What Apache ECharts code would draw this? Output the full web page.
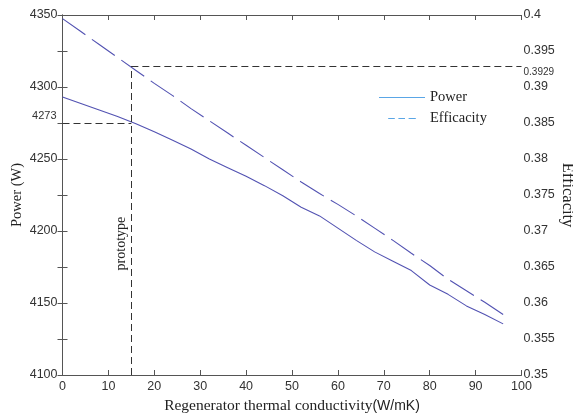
<!DOCTYPE html>
<html><head><meta charset="utf-8">
<script src="https://cdn.jsdelivr.net/npm/echarts@6/dist/echarts.min.js"></script>
<style>html,body{margin:0;padding:0;background:#fff}#c{width:573px;height:417px}</style>
</head><body><div id="c"></div>
<script>
var conductivity = [0,4,8,12,16,20,24,28,32,36,40,44,48,52,56,60,64,68,72,76,80,84,88,92,96];
var power = [4293,4288.5,4284,4279.5,4274.5,4269,4263,4257,4250,4244,4238,4231.5,4224.5,4216.5,4210.5,4202,4193.5,4185.5,4179,4172.5,4162.5,4156,4148,4142,4135.5];
var efficacity = [0.3995,0.3977,0.3959,0.3941,0.3923,0.3905,0.3888,0.3870,0.3853,0.3836,0.3819,0.3802,0.3785,0.3768,0.3752,0.3737,0.3721,0.3704,0.3687,0.3669,0.3652,0.3633,0.3617,0.3601,0.3584];
var prototypeX = 15;
var prototypePower = 4275;
var prototypePowerLabel = '4273';
var prototypeEff = 0.3929;
var prototypeEffLabel = '0.3929';

var serif = '"Liberation Serif","Times New Roman",serif';
var sans = '"Liberation Sans",Arial,sans-serif';
var axisCol = '#555';
var lineCol = '#5252b2';
var legendCol = '#5aa6e6';
var refLine = {type:[7,4], color:'#333', width:1};

var chart = echarts.init(document.getElementById('c'));
chart.setOption({
  animation:false,
  backgroundColor:'#fff',
  grid:{left:62.5, right:51.5, top:15, bottom:42, containLabel:false, outerBoundsMode:'none'},
  legend:{
    left:374, top:85, orient:'vertical', itemWidth:46, itemHeight:1.2, itemGap:6,
    textStyle:{fontFamily:serif, fontSize:14.5, color:'#222'},
    data:[
      {name:'Power', icon:'rect', itemStyle:{color:legendCol}},
      {name:'Efficacity', icon:'path://M0,0h11v2h-11zM17,0h11v2h-11zM34,0h12v2h-12z', itemStyle:{color:legendCol}}
    ]
  },
  xAxis:[{
    type:'value', min:0, max:100, interval:10, position:'bottom',
    axisLine:{lineStyle:{color:axisCol}}, axisTick:{inside:true, length:5, lineStyle:{color:axisCol}},
    axisLabel:{fontFamily:sans, fontSize:12.5, color:'#333', margin:5},
    splitLine:{show:false},
    name:'{a|Regenerator thermal conductivity}{b|(W/mK)}', nameLocation:'middle', nameGap:20,
    nameTextStyle:{rich:{a:{fontFamily:serif, fontSize:15.5, color:'#222'}, b:{fontFamily:sans, fontSize:14, color:'#222'}}}
  },{
    type:'value', min:0, max:100, interval:10, position:'top',
    axisLine:{lineStyle:{color:axisCol}}, axisTick:{inside:true, length:5, lineStyle:{color:axisCol}},
    axisLabel:{show:false}, splitLine:{show:false}
  }],
  yAxis:[{
    type:'value', min:4100, max:4350, interval:25, position:'left',
    axisLine:{show:true, lineStyle:{color:axisCol}}, axisTick:{show:true, inside:true, length:5, lineStyle:{color:axisCol}},
    axisLabel:{fontFamily:sans, fontSize:12.5, color:'#333', margin:5, formatter:function(v){return v%50===0?String(v):'';}},
    splitLine:{show:false},
    name:'Power (W)', nameLocation:'middle', nameGap:38, nameMoveOverlap:false,
    nameTextStyle:{fontFamily:serif, fontSize:14.5, color:'#222'}
  },{
    type:'value', min:0.35, max:0.4, interval:0.005, position:'right',
    axisLine:{show:true, lineStyle:{color:axisCol}}, axisTick:{show:true, inside:true, length:5, lineStyle:{color:axisCol}},
    axisLabel:{fontFamily:sans, fontSize:12.5, color:'#333', margin:2},
    splitLine:{show:false},
    name:'Efficacity', nameLocation:'middle', nameGap:37, nameRotate:-90, nameMoveOverlap:false,
    nameTextStyle:{fontFamily:serif, fontSize:16.5, color:'#222'}
  }],
  series:[{
    name:'Power', type:'line', xAxisIndex:0, yAxisIndex:0, symbol:'none', smooth:false,
    lineStyle:{color:lineCol, width:1.1}, itemStyle:{color:lineCol},
    data:conductivity.map(function(x,i){return [x,power[i]];}),
    markLine:{
      silent:true, symbol:'none', lineStyle:refLine,
      label:{show:true, position:'start', formatter:prototypePowerLabel + '\n ', fontFamily:sans, fontSize:11, lineHeight:14, color:'#333', distance:6},
      data:[[{coord:[0,prototypePower]},{coord:[prototypeX,prototypePower]}]]
    }
  },{
    name:'Efficacity', type:'line', xAxisIndex:0, yAxisIndex:1, symbol:'none', smooth:false,
    lineStyle:{color:lineCol, width:1.1, type:[28,8]}, itemStyle:{color:lineCol},
    data:conductivity.map(function(x,i){return [x,efficacity[i]];}),
    markLine:{
      silent:true, symbol:'none', lineStyle:refLine,
      data:[
        [{coord:[prototypeX,prototypeEff], label:{show:true, position:'end', formatter:' \n' + prototypeEffLabel, fontFamily:sans, fontSize:10, lineHeight:12, color:'#333', distance:2}},{coord:[100,prototypeEff]}],
        [{coord:[prototypeX,0.35], label:{show:true, position:'insideMiddleTop', formatter:'prototype', fontFamily:serif, fontSize:14, color:'#222', distance:3, padding:[0,46,0,0]}},{coord:[prototypeX,prototypeEff]}]
      ]
    }
  }]
});
</script>
</body></html>
